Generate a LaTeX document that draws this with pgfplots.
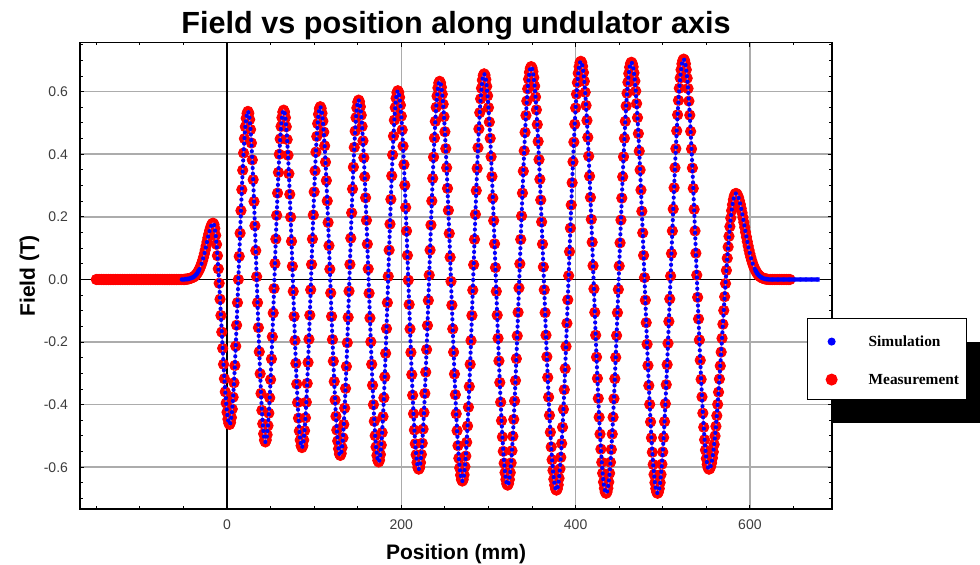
\documentclass[border=0pt]{standalone}
\usepackage{pgfplots}
\usepackage{pgfplotstable}
\usepackage{fontspec}
\pgfplotsset{compat=1.18}
\setmainfont{Liberation Sans}
\newfontfamily\legendfont{Liberation Serif}
\definecolor{simline}{RGB}{190,120,200}
\definecolor{ticklab}{RGB}{60,60,60}

% field along the undulator axis (mm, T)
\pgfplotstableread[row sep=\\]{
x B\\
-150 0\\ -148 0\\ -146 0\\ -144 0\\ -142 0\\ -140 0\\ -138 0\\ -136 0\\ -134 0\\ -132 0\\
-130 0\\ -128 0\\ -126 0\\ -124 0\\ -122 0\\ -120 0\\ -118 0\\ -116 0\\ -114 0\\ -112 0\\
-110 0\\ -108 0\\ -106 0\\ -104 0\\ -102 0\\ -100 0\\ -98 0\\ -96 0\\ -94 0\\ -92 0\\
-90 0\\ -88 0\\ -86 0\\ -84 0\\ -82 0\\ -80 0\\ -78 0\\ -76 0\\ -74 0\\ -72 0\\
-70 0\\ -68 0\\ -66 0\\ -64 0\\ -62 0\\ -60 0\\ -58 0\\ -56 0\\ -54 0\\ -52 0\\ -50 0\\
-49 0\\ -48 0.001\\ -47 0.001\\ -46 0.001\\ -45 0.002\\ -44 0.002\\ -43 0.003\\ -42 0.004\\ -41 0.005\\ -40 0.006\\
-39 0.007\\ -38 0.009\\ -37 0.011\\ -36 0.014\\ -35 0.017\\ -34 0.021\\ -33 0.026\\ -32 0.031\\ -31 0.037\\ -30 0.044\\
-29 0.052\\ -28 0.061\\ -27 0.071\\ -26 0.082\\ -25 0.094\\ -24 0.107\\ -23 0.120\\ -22 0.133\\ -21 0.145\\ -20 0.156\\
-19 0.165\\ -18 0.173\\ -17 0.178\\ -16 0.180\\ -15 0.176\\ -14 0.163\\ -13 0.141\\ -12 0.112\\ -11 0.076\\ -10 0.034\\
-9 -0.012\\ -8 -0.063\\ -7 -0.115\\ -6 -0.168\\ -5 -0.220\\ -4 -0.271\\ -3 -0.317\\ -2 -0.359\\ -1 -0.395\\ 0 -0.424\\
1 -0.446\\ 2 -0.459\\ 3 -0.463\\ 4 -0.457\\ 5 -0.441\\ 6 -0.414\\ 7 -0.376\\ 8 -0.330\\ 9 -0.275\\ 10 -0.213\\
11 -0.146\\ 12 -0.074\\ 13 0.000\\ 14 0.074\\ 15 0.148\\ 16 0.220\\ 17 0.287\\ 18 0.349\\ 19 0.404\\ 20 0.450\\
21 0.488\\ 22 0.515\\ 23 0.531\\ 24 0.537\\ 25 0.531\\ 26 0.511\\ 27 0.479\\ 28 0.436\\ 29 0.382\\ 30 0.319\\
31 0.249\\ 32 0.172\\ 33 0.092\\ 34 0.009\\ 35 -0.074\\ 36 -0.154\\ 37 -0.231\\ 38 -0.301\\ 39 -0.364\\ 40 -0.418\\
41 -0.461\\ 42 -0.493\\ 43 -0.513\\ 44 -0.519\\ 45 -0.513\\ 46 -0.496\\ 47 -0.467\\ 48 -0.427\\ 49 -0.378\\ 50 -0.320\\
51 -0.254\\ 52 -0.183\\ 53 -0.107\\ 54 -0.029\\ 55 0.051\\ 56 0.129\\ 57 0.205\\ 58 0.276\\ 59 0.342\\ 60 0.400\\
61 0.449\\ 62 0.489\\ 63 0.517\\ 64 0.535\\ 65 0.541\\ 66 0.535\\ 67 0.517\\ 68 0.488\\ 69 0.447\\ 70 0.397\\
71 0.338\\ 72 0.272\\ 73 0.199\\ 74 0.122\\ 75 0.042\\ 76 -0.038\\ 77 -0.118\\ 78 -0.195\\ 79 -0.268\\ 80 -0.334\\
81 -0.393\\ 82 -0.443\\ 83 -0.484\\ 84 -0.513\\ 85 -0.531\\ 86 -0.537\\ 87 -0.531\\ 88 -0.513\\ 89 -0.483\\ 90 -0.442\\
91 -0.392\\ 92 -0.332\\ 93 -0.265\\ 94 -0.191\\ 95 -0.114\\ 96 -0.033\\ 97 0.048\\ 98 0.129\\ 99 0.206\\ 100 0.280\\
101 0.347\\ 102 0.407\\ 103 0.457\\ 104 0.498\\ 105 0.528\\ 106 0.546\\ 107 0.552\\ 108 0.547\\ 109 0.531\\ 110 0.506\\
111 0.471\\ 112 0.427\\ 113 0.375\\ 114 0.316\\ 115 0.251\\ 116 0.182\\ 117 0.108\\ 118 0.033\\ 119 -0.043\\ 120 -0.118\\
121 -0.192\\ 122 -0.261\\ 123 -0.326\\ 124 -0.385\\ 125 -0.437\\ 126 -0.481\\ 127 -0.516\\ 128 -0.541\\ 129 -0.557\\ 130 -0.562\\
131 -0.556\\ 132 -0.537\\ 133 -0.506\\ 134 -0.463\\ 135 -0.411\\ 136 -0.348\\ 137 -0.278\\ 138 -0.202\\ 139 -0.121\\ 140 -0.037\\
141 0.048\\ 142 0.132\\ 143 0.213\\ 144 0.289\\ 145 0.359\\ 146 0.422\\ 147 0.474\\ 148 0.517\\ 149 0.548\\ 150 0.567\\
151 0.573\\ 152 0.568\\ 153 0.552\\ 154 0.525\\ 155 0.489\\ 156 0.443\\ 157 0.389\\ 158 0.328\\ 159 0.261\\ 160 0.189\\
161 0.113\\ 162 0.034\\ 163 -0.044\\ 164 -0.123\\ 165 -0.199\\ 166 -0.271\\ 167 -0.338\\ 168 -0.400\\ 169 -0.453\\ 170 -0.499\\
171 -0.535\\ 172 -0.562\\ 173 -0.578\\ 174 -0.583\\ 175 -0.577\\ 176 -0.559\\ 177 -0.529\\ 178 -0.489\\ 179 -0.438\\ 180 -0.378\\
181 -0.311\\ 182 -0.236\\ 183 -0.157\\ 184 -0.074\\ 185 0.010\\ 186 0.094\\ 187 0.177\\ 188 0.256\\ 189 0.331\\ 190 0.398\\
191 0.458\\ 192 0.509\\ 193 0.549\\ 194 0.579\\ 195 0.597\\ 196 0.603\\ 197 0.598\\ 198 0.582\\ 199 0.557\\ 200 0.522\\
201 0.478\\ 202 0.426\\ 203 0.367\\ 204 0.301\\ 205 0.230\\ 206 0.155\\ 207 0.077\\ 208 -0.002\\ 209 -0.080\\ 210 -0.158\\
211 -0.233\\ 212 -0.304\\ 213 -0.370\\ 214 -0.429\\ 215 -0.481\\ 216 -0.525\\ 217 -0.560\\ 218 -0.585\\ 219 -0.601\\ 220 -0.606\\
221 -0.601\\ 222 -0.585\\ 223 -0.559\\ 224 -0.523\\ 225 -0.478\\ 226 -0.425\\ 227 -0.364\\ 228 -0.296\\ 229 -0.224\\ 230 -0.147\\
231 -0.067\\ 232 0.014\\ 233 0.094\\ 234 0.174\\ 235 0.251\\ 236 0.323\\ 237 0.391\\ 238 0.452\\ 239 0.505\\ 240 0.550\\
241 0.586\\ 242 0.612\\ 243 0.628\\ 244 0.633\\ 245 0.628\\ 246 0.614\\ 247 0.592\\ 248 0.560\\ 249 0.520\\ 250 0.472\\
251 0.418\\ 252 0.357\\ 253 0.291\\ 254 0.221\\ 255 0.147\\ 256 0.071\\ 257 -0.006\\ 258 -0.082\\ 259 -0.158\\ 260 -0.232\\
261 -0.302\\ 262 -0.368\\ 263 -0.429\\ 264 -0.483\\ 265 -0.531\\ 266 -0.571\\ 267 -0.602\\ 268 -0.625\\ 269 -0.639\\ 270 -0.644\\
271 -0.639\\ 272 -0.624\\ 273 -0.598\\ 274 -0.564\\ 275 -0.520\\ 276 -0.468\\ 277 -0.408\\ 278 -0.342\\ 279 -0.271\\ 280 -0.195\\
281 -0.115\\ 282 -0.034\\ 283 0.047\\ 284 0.128\\ 285 0.208\\ 286 0.284\\ 287 0.355\\ 288 0.421\\ 289 0.481\\ 290 0.533\\
291 0.577\\ 292 0.611\\ 293 0.637\\ 294 0.652\\ 295 0.657\\ 296 0.653\\ 297 0.639\\ 298 0.617\\ 299 0.587\\ 300 0.549\\
301 0.503\\ 302 0.451\\ 303 0.392\\ 304 0.329\\ 305 0.260\\ 306 0.188\\ 307 0.114\\ 308 0.038\\ 309 -0.038\\ 310 -0.114\\
311 -0.188\\ 312 -0.260\\ 313 -0.329\\ 314 -0.392\\ 315 -0.451\\ 316 -0.503\\ 317 -0.549\\ 318 -0.587\\ 319 -0.617\\ 320 -0.639\\
321 -0.653\\ 322 -0.657\\ 323 -0.652\\ 324 -0.639\\ 325 -0.617\\ 326 -0.586\\ 327 -0.547\\ 328 -0.501\\ 329 -0.447\\ 330 -0.388\\
331 -0.323\\ 332 -0.253\\ 333 -0.180\\ 334 -0.105\\ 335 -0.027\\ 336 0.050\\ 337 0.128\\ 338 0.203\\ 339 0.276\\ 340 0.346\\
341 0.411\\ 342 0.470\\ 343 0.524\\ 344 0.570\\ 345 0.609\\ 346 0.640\\ 347 0.662\\ 348 0.675\\ 349 0.680\\ 350 0.676\\
351 0.664\\ 352 0.645\\ 353 0.618\\ 354 0.583\\ 355 0.542\\ 356 0.495\\ 357 0.441\\ 358 0.383\\ 359 0.320\\ 360 0.254\\
361 0.184\\ 362 0.113\\ 363 0.040\\ 364 -0.033\\ 365 -0.106\\ 366 -0.178\\ 367 -0.247\\ 368 -0.313\\ 369 -0.376\\ 370 -0.434\\
371 -0.488\\ 372 -0.535\\ 373 -0.576\\ 374 -0.610\\ 375 -0.638\\ 376 -0.657\\ 377 -0.669\\ 378 -0.673\\ 379 -0.669\\ 380 -0.656\\
381 -0.635\\ 382 -0.605\\ 383 -0.568\\ 384 -0.524\\ 385 -0.472\\ 386 -0.415\\ 387 -0.352\\ 388 -0.285\\ 389 -0.214\\ 390 -0.140\\
391 -0.065\\ 392 0.012\\ 393 0.089\\ 394 0.164\\ 395 0.238\\ 396 0.309\\ 397 0.376\\ 398 0.439\\ 399 0.496\\ 400 0.548\\
401 0.592\\ 402 0.629\\ 403 0.659\\ 404 0.680\\ 405 0.693\\ 406 0.697\\ 407 0.693\\ 408 0.681\\ 409 0.661\\ 410 0.633\\
411 0.598\\ 412 0.556\\ 413 0.508\\ 414 0.454\\ 415 0.394\\ 416 0.330\\ 417 0.262\\ 418 0.192\\ 419 0.119\\ 420 0.044\\
421 -0.030\\ 422 -0.105\\ 423 -0.178\\ 424 -0.248\\ 425 -0.316\\ 426 -0.380\\ 427 -0.440\\ 428 -0.494\\ 429 -0.542\\ 430 -0.584\\
431 -0.619\\ 432 -0.647\\ 433 -0.667\\ 434 -0.679\\ 435 -0.683\\ 436 -0.679\\ 437 -0.667\\ 438 -0.647\\ 439 -0.619\\ 440 -0.584\\
441 -0.543\\ 442 -0.494\\ 443 -0.440\\ 444 -0.381\\ 445 -0.317\\ 446 -0.249\\ 447 -0.179\\ 448 -0.106\\ 449 -0.032\\ 450 0.043\\
451 0.117\\ 452 0.190\\ 453 0.260\\ 454 0.328\\ 455 0.392\\ 456 0.451\\ 457 0.505\\ 458 0.554\\ 459 0.595\\ 460 0.630\\
461 0.658\\ 462 0.678\\ 463 0.690\\ 464 0.694\\ 465 0.690\\ 466 0.679\\ 467 0.660\\ 468 0.634\\ 469 0.602\\ 470 0.562\\
471 0.517\\ 472 0.466\\ 473 0.410\\ 474 0.350\\ 475 0.286\\ 476 0.218\\ 477 0.149\\ 478 0.077\\ 479 0.006\\ 480 -0.066\\
481 -0.138\\ 482 -0.207\\ 483 -0.275\\ 484 -0.339\\ 485 -0.399\\ 486 -0.455\\ 487 -0.506\\ 488 -0.552\\ 489 -0.591\\ 490 -0.623\\
491 -0.649\\ 492 -0.668\\ 493 -0.679\\ 494 -0.683\\ 495 -0.679\\ 496 -0.668\\ 497 -0.649\\ 498 -0.623\\ 499 -0.590\\ 500 -0.551\\
501 -0.505\\ 502 -0.454\\ 503 -0.397\\ 504 -0.336\\ 505 -0.272\\ 506 -0.204\\ 507 -0.134\\ 508 -0.062\\ 509 0.011\\ 510 0.083\\
511 0.155\\ 512 0.225\\ 513 0.293\\ 514 0.357\\ 515 0.418\\ 516 0.475\\ 517 0.526\\ 518 0.572\\ 519 0.611\\ 520 0.644\\
521 0.670\\ 522 0.689\\ 523 0.700\\ 524 0.704\\ 525 0.700\\ 526 0.689\\ 527 0.670\\ 528 0.643\\ 529 0.610\\ 530 0.570\\
531 0.525\\ 532 0.473\\ 533 0.417\\ 534 0.356\\ 535 0.291\\ 536 0.224\\ 537 0.155\\ 538 0.084\\ 539 0.014\\ 540 -0.057\\
541 -0.126\\ 542 -0.193\\ 543 -0.258\\ 544 -0.319\\ 545 -0.375\\ 546 -0.427\\ 547 -0.472\\ 548 -0.512\\ 549 -0.545\\ 550 -0.572\\
551 -0.591\\ 552 -0.602\\ 553 -0.606\\ 554 -0.604\\ 555 -0.597\\ 556 -0.586\\ 557 -0.570\\ 558 -0.551\\ 559 -0.527\\ 560 -0.500\\
561 -0.469\\ 562 -0.435\\ 563 -0.399\\ 564 -0.360\\ 565 -0.318\\ 566 -0.276\\ 567 -0.232\\ 568 -0.188\\ 569 -0.143\\ 570 -0.099\\
571 -0.055\\ 572 -0.013\\ 573 0.029\\ 574 0.068\\ 575 0.104\\ 576 0.138\\ 577 0.169\\ 578 0.196\\ 579 0.220\\ 580 0.239\\
581 0.255\\ 582 0.266\\ 583 0.273\\ 584 0.275\\ 585 0.273\\ 586 0.268\\ 587 0.261\\ 588 0.251\\ 589 0.240\\ 590 0.227\\
591 0.213\\ 592 0.198\\ 593 0.183\\ 594 0.167\\ 595 0.151\\ 596 0.136\\ 597 0.121\\ 598 0.107\\ 599 0.094\\ 600 0.082\\
601 0.071\\ 602 0.061\\ 603 0.052\\ 604 0.044\\ 605 0.037\\ 606 0.031\\ 607 0.026\\ 608 0.021\\ 609 0.017\\ 610 0.014\\
611 0.011\\ 612 0.009\\ 613 0.007\\ 614 0.005\\ 615 0.004\\ 616 0.003\\ 617 0.002\\ 618 0.002\\ 619 0.001\\ 620 0.001\\
622 0\\ 624 0\\ 626 0\\ 628 0\\ 630 0\\ 632 0\\ 634 0\\ 636 0\\ 638 0\\ 640 0\\
642 0\\ 644 0\\ 646 0\\ 648 0\\ 650 0\\ 652 0\\ 654 0\\ 656 0\\ 658 0\\ 660 0\\
662 0\\ 664 0\\ 666 0\\ 668 0\\ 670 0\\ 672 0\\ 674 0\\ 676 0\\ 678 0\\ 680 0\\
}\field

\begin{document}
\begin{tikzpicture}
\path[use as bounding box] (0,0) rectangle (490pt,282.5pt);
\clip (0,0) rectangle (490pt,282.5pt);
% shadow behind the legend box
\fill[black] (415.5pt,71pt) rectangle (495pt,111.5pt);
\begin{axis}[
    at={(40pt,28pt)}, anchor=south west,
    width=376pt, height=233.15pt, scale only axis,
    xmin=-168.7, xmax=694.2, ymin=-0.7332, ymax=0.7565,
    clip marker paths=true,
    axis line style={line width=0.8pt},
    tick style={black, line width=0.5pt},
    major tick length=2pt, minor tick length=1.3pt,
    xtick={200,400,600},
    minor xtick={-150,-100,-50,50,100,150,250,300,350,450,500,550,650},
    extra x ticks={0}, extra x tick labels={0},
    extra x tick style={grid=major, major grid style={black, line width=0.8pt}},
    ytick={-0.6,-0.4,-0.2,0.2,0.4,0.6},
    minor ytick={-0.7,-0.65,-0.55,-0.5,-0.45,-0.35,-0.3,-0.25,-0.15,-0.1,-0.05,0.05,0.1,0.15,0.25,0.3,0.35,0.45,0.5,0.55,0.65,0.7,0.75},
    extra y ticks={0}, extra y tick labels={0.0},
    extra y tick style={grid=major, major grid style={black, line width=0.8pt}},
    yticklabel style={/pgf/number format/fixed, /pgf/number format/fixed zerofill, /pgf/number format/precision=1, xshift=-2.5pt},
    xticklabel style={yshift=-1.7pt},
    /pgf/number format/assume math mode=true,
    tick label style={font=\fontsize{7}{8}\selectfont, text=ticklab},
    grid=major, major grid style={gray!65, line width=0.8pt},
    title={Field vs position along undulator axis},
    every axis title/.style={font=\bfseries\fontsize{15.3}{17}\selectfont, at={(axis description cs:0.5,1.0202)}, anchor=base},
    xlabel={Position (mm)},
    xlabel style={font=\bfseries\fontsize{10.5}{12}\selectfont, at={(axis description cs:0.5,-0.109)}, anchor=base},
    ylabel={Field (T)},
    ylabel style={font=\bfseries\fontsize{10.5}{12}\selectfont, at={(axis description cs:-0.06,0.5)}, anchor=base},
    legend image code/.code={\path[draw=none, fill=none] (0pt,-3.5pt) rectangle (20pt,3.5pt); \draw[#1] plot coordinates {(10pt,-0.9pt)};},
    legend style={
        at={(axis description cs:0.9668,0.4096)}, anchor=north west,
        draw=black, line width=0.6pt, fill=white,
        inner xsep=2pt, inner ysep=7.1pt, row sep=12pt, column sep=8.5pt,
        font=\legendfont\bfseries\fontsize{7.7}{9}\selectfont,
        nodes={inner sep=0pt, text height=7pt, text depth=0pt, text width=47pt, align=left},
    },
]
\addplot[forget plot, only marks, mark=*, mark size=2.6pt, color=red,
    restrict x to domain=-150:646] table[x=x, y=B] {\field};
\addplot[forget plot, simline, line width=0.6pt,
    restrict x to domain=-52:680] table[x=x, y=B] {\field};
\addplot[forget plot, blue, line width=2.1pt, line cap=round, dash pattern=on 0pt off 2.8pt,
    restrict x to domain=-52:680] table[x=x, y=B] {\field};
\addplot[forget plot, blue, line width=2.2pt, restrict x to domain=-52:-32] table[x=x, y=B] {\field};
\addplot[forget plot, blue, line width=2.2pt, restrict x to domain=606:680] table[x=x, y=B] {\field};

\addlegendimage{only marks, mark=*, blue, mark size=1.7pt}
\addlegendentry{Simulation}
\addlegendimage{only marks, mark=*, red, mark size=2.7pt}
\addlegendentry{Measurement}
\end{axis}
\end{tikzpicture}
\end{document}
